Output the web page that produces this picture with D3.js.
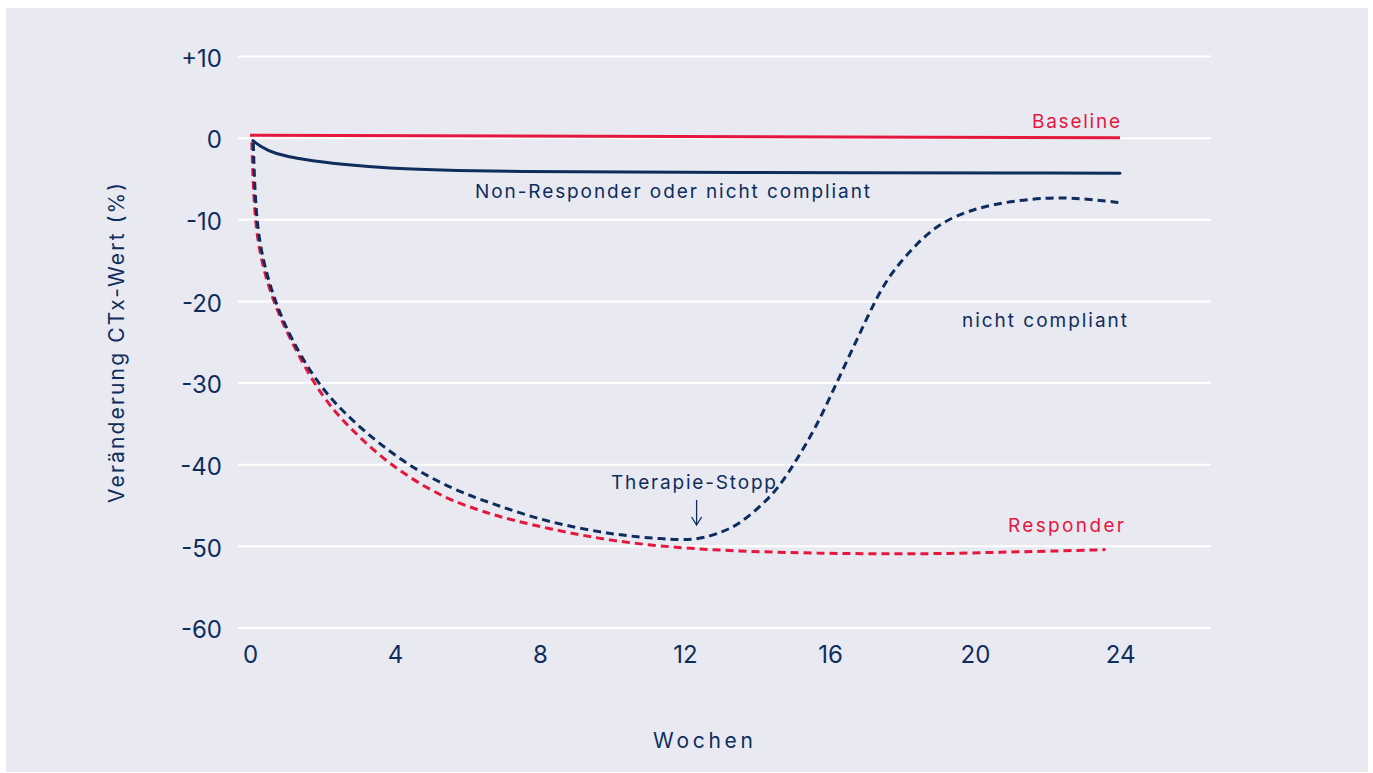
<!DOCTYPE html>
<html>
<head>
<meta charset="utf-8">
<script src="https://cdn.jsdelivr.net/npm/d3@7"></script>
<style>
  html, body { margin: 0; padding: 0; background: #ffffff; }
  svg { display: block; }
  text { font-family: Inter, "Noto Sans", sans-serif; }
</style>
</head>
<body>
<svg id="chart" width="1373" height="773"></svg>
<script>
// ---- data ----
const yTicks = [10, 0, -10, -20, -30, -40, -50, -60];
const yTickLabels = ["+10", "0", "-10", "-20", "-30", "-40", "-50", "-60"];
const xTicks = [0, 4, 8, 12, 16, 20, 24];

const baselineWeeks = [0, 24];
const baselineValues = [0.35, 0.05];

const nonResponderWeeks = [0.08, 0.28, 0.64, 1.56, 2.48, 3.86, 5.24, 6.9, 12.4, 24];
const nonResponderValues = [-0.3, -1.0, -1.9, -2.7, -3.2, -3.7, -3.9, -4.1, -4.2, -4.3];

const responderWeeks = [0.05, 0.12, 0.32, 0.64, 1.1, 1.75, 2.3, 2.76, 3.77, 5.24, 6.34, 6.9, 8.18, 10.02, 11.86, 13.52, 15.17, 16.55, 17.93, 19.31, 20.69, 22.07, 23.6];
const responderValues = [-0.5, -10, -15.3, -20, -24.6, -30, -33.3, -35.5, -39.8, -43.9, -45.6, -46.4, -47.8, -49.4, -50.2, -50.6, -50.8, -50.9, -50.9, -50.9, -50.7, -50.6, -50.4];

const nichtCompliantWeeks = [0.09, 0.16, 0.37, 0.69, 1.1, 1.84, 2.76, 4.23, 5.61, 6.9, 8.18, 10.02, 11.4, 12.32, 13.06, 13.52, 14.16, 14.62, 15.08, 15.63, 16.18, 16.74, 17.2, 17.66, 18.39, 19.13, 20.41, 22.07, 22.98, 24];
const nichtCompliantValues = [-0.6, -10, -15.3, -20, -24.3, -30, -34.5, -39.8, -43.1, -45.1, -47, -48.6, -49.1, -49.3, -48.2, -47.2, -44.8, -42.6, -39.4, -35.3, -30, -24.7, -20.3, -16.6, -12.9, -10, -8, -7.2, -7.4, -7.9];

const labels = {
  baseline: "Baseline",
  nonResponder: "Non-Responder oder nicht compliant",
  nichtCompliant: "nicht compliant",
  responder: "Responder",
  stop: "Therapie-Stopp",
  xTitle: "Wochen",
  yTitle: "Veränderung CTx-Wert (%)"
};

// ---- styles ----
const NAVY = "#0e2d5d";
const RED = "#e5173d";
const BG = "#e9e9f2";

const svg = d3.select("#chart");
svg.append("rect").attr("x", 6).attr("y", 8).attr("width", 1362).attr("height", 764).attr("fill", BG);

const x = d3.scaleLinear().domain([0, 24]).range([250, 1120]);
const y = d3.scaleLinear().domain([-60, 10]).range([628, 56.5]);
const gridX0 = 238, gridX1 = 1211;

// gridlines
svg.append("g").selectAll("line").data(yTicks).join("line")
  .attr("x1", gridX0).attr("x2", gridX1)
  .attr("y1", d => y(d)).attr("y2", d => y(d))
  .attr("stroke", "#ffffff").attr("stroke-width", 2);

// y axis tick labels
const yAxis = d3.axisLeft(y).tickValues(yTicks).tickSize(0).tickPadding(0)
  .tickFormat((d, i) => yTickLabels[i]);
const gy = svg.append("g").attr("transform", "translate(222,2)").call(yAxis);
gy.select(".domain").remove();
gy.selectAll("text").attr("fill", NAVY).style("font-size", "24px").style("font-family", "Inter, sans-serif");

// x axis tick labels
const xAxis = d3.axisBottom(x).tickValues(xTicks).tickSize(0).tickPadding(0).tickFormat(d3.format("d"));
const gx = svg.append("g").attr("transform", "translate(0,646)").call(xAxis);
gx.select(".domain").remove();
gx.selectAll("text").attr("fill", NAVY).style("font-size", "24px").style("font-family", "Inter, sans-serif");

// lines
const lineGen = d3.line().x(d => x(d[0])).y(d => y(d[1])).curve(d3.curveBasis);
const zip = (a, b) => a.map((v, i) => [v, b[i]]);

svg.append("path").datum(zip(baselineWeeks, baselineValues))
  .attr("d", lineGen).attr("fill", "none").attr("stroke", RED).attr("stroke-width", 3);

svg.append("path").datum(zip(responderWeeks, responderValues))
  .attr("d", lineGen).attr("fill", "none").attr("stroke", RED).attr("stroke-width", 3)
  .attr("stroke-dasharray", "8,5");

svg.append("path").datum(zip(nichtCompliantWeeks, nichtCompliantValues))
  .attr("d", lineGen).attr("fill", "none").attr("stroke", NAVY).attr("stroke-width", 3)
  .attr("stroke-dasharray", "8,5");

svg.append("path").datum(zip(nonResponderWeeks, nonResponderValues))
  .attr("d", lineGen).attr("fill", "none").attr("stroke", NAVY).attr("stroke-width", 3)
  .attr("stroke-linecap", "round");

// annotations
function label(txt, xx, yy, color, size, anchor, len) {
  const t = svg.append("text").attr("x", xx).attr("y", yy).attr("fill", color)
    .attr("text-anchor", anchor).style("font-size", size + "px").text(txt);
  if (len) t.attr("textLength", len).attr("lengthAdjust", "spacing");
  return t;
}
label(labels.baseline, x(24), 128, RED, 19, "end", 88);
label(labels.nonResponder, 475, 198, NAVY, 19, "start", 395);
label(labels.nichtCompliant, 962, 327, NAVY, 19, "start", 165);
label(labels.stop, 611, 489, NAVY, 19, "start", 165);
label(labels.responder, 1008, 532, RED, 19, "start", 116);

// arrow for Therapie-Stopp
const ax = x(12.32);
svg.append("line").attr("x1", ax).attr("x2", ax).attr("y1", 500).attr("y2", 524)
  .attr("stroke", NAVY).attr("stroke-width", 1.3);
svg.append("path").attr("d", `M${ax - 5},${517} L${ax},${525} L${ax + 5},${517}`)
  .attr("fill", "none").attr("stroke", NAVY).attr("stroke-width", 1.3);

// axis titles
label(labels.xTitle, 703, 748, NAVY, 21, "middle", 100);
svg.append("text").attr("transform", "translate(124,343) rotate(-90)")
  .attr("text-anchor", "middle").attr("fill", NAVY).style("font-size", "21px")
  .attr("textLength", 320).attr("lengthAdjust", "spacing")
  .text(labels.yTitle);
</script>
</body>
</html>
